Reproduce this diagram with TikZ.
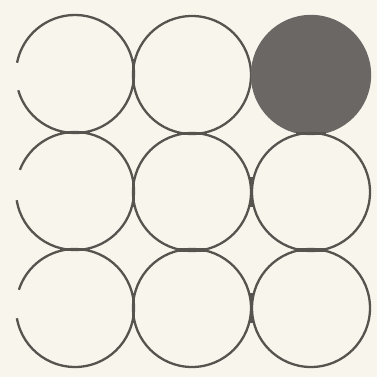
\documentclass[tikz,border=0pt]{standalone}
\usetikzlibrary{calc}
\definecolor{paper}{HTML}{F7F5EC}
\definecolor{ink}{HTML}{57544F}
\definecolor{dark}{HTML}{6A6764}
\begin{document}
\begin{tikzpicture}[x=1pt,y=-1pt,
  ring/.style={circle,minimum size=118pt,inner sep=0pt,outer sep=0pt,line width=2.3pt,draw=ink},
  openring/.style={circle,minimum size=118pt,inner sep=0pt,outer sep=0pt},
  arcline/.style={line width=2.3pt,draw=ink},
  vbridge/.style={fill=ink},
  hbridge/.style={fill=ink}]
\fill[paper] (0,0) rectangle (377,377);
\useasboundingbox (0,0) rectangle (377,377);
% top row
\node[openring] (a1) at (75,74) {};
\node[ring] (a2) at (192,75) {};
\node[ring,fill=dark,draw=dark] (a3) at (311,75) {};
% middle row
\node[openring] (b1) at (75,191) {};
\node[ring] (b2) at (192,192) {};
\node[ring] (b3) at (311,192) {};
% bottom row
\node[openring] (c1) at (75,308) {};
\node[ring] (c2) at (192,308) {};
\node[ring] (c3) at (311,308) {};
% left circles with a small gap on their left side
\draw[arcline] (a1.196) arc[start angle=196,end angle=529,radius=59pt];
\draw[arcline] (b1.189) arc[start angle=189,end angle=519,radius=59pt];
\draw[arcline] (c1.190) arc[start angle=190,end angle=522,radius=59pt];
% ink bridges where neighbouring circles touch (side by side)
\foreach \p/\q in {a1/a2,b1/b2,b2/b3,c1/c2,c2/c3}
  \fill[vbridge] ($(\p)!0.5!(\q)$) +(-1.6,-15) rectangle +(1.6,15);
% ink bridges where circles touch (one above the other)
\foreach \p/\q in {a1/b1,a2/b2,a3/b3,b1/c1,b2/c2,b3/c3}
  \fill[hbridge] ($(\p)!0.5!(\q)$) +(-15,-1.6) rectangle +(15,1.6);
\end{tikzpicture}
\end{document}
